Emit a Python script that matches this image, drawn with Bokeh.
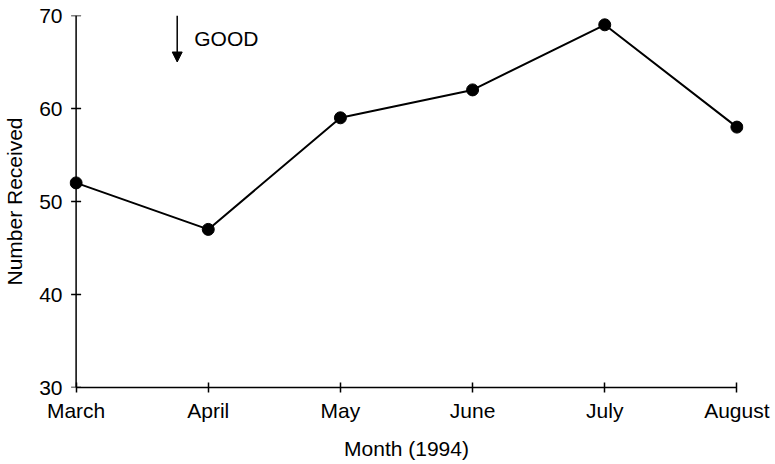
from bokeh.plotting import figure
from bokeh.models import Range1d, FixedTicker, Arrow, NormalHead, Label, ColumnDataSource
from bokeh.embed import file_html
from bokeh.resources import INLINE

months = ["March", "April", "May", "June", "July", "August"]
received = [52, 47, 59, 62, 69, 58]
y_ticks = [30, 40, 50, 60, 70]
x_title = "Month (1994)"
y_title = "Number Received"
note = "GOOD"

FONT = "Liberation Sans"
FS = "21px"

xs = list(range(len(months)))
src = ColumnDataSource(dict(x=xs, y=received, m=months))

pad = 0.05
p = figure(width=772, height=462, output_backend="svg", toolbar_location=None,
           x_range=Range1d(-pad, len(months) - 1 + pad), y_range=Range1d(30, 70),
           min_border_left=69, min_border_right=29, min_border_top=15, min_border_bottom=73)
p.outline_line_color = None
p.grid.visible = False
p.background_fill_color = "white"
p.border_fill_color = "white"

# y axis line and ticks drawn at the first category (x = 0)
tick_half = 5.0 / 132.0
p.segment(x0=[xs[0]], y0=[y_ticks[0]], x1=[xs[0]], y1=[y_ticks[-1]],
          line_color="black", line_width=1.5)
p.segment(x0=[xs[0] - tick_half] * len(y_ticks), y0=y_ticks,
          x1=[xs[0] + tick_half] * len(y_ticks), y1=y_ticks,
          line_color="black", line_width=1.5)

p.line("x", "y", source=src, line_color="black", line_width=2)
p.scatter("x", "y", source=src, size=12, fill_color="black", line_color="black")

p.xaxis.ticker = FixedTicker(ticks=xs)
p.xaxis.major_label_overrides = {i: m for i, m in enumerate(months)}
p.xaxis.bounds = (0, len(months) - 1)
p.yaxis.ticker = FixedTicker(ticks=y_ticks)
p.xaxis.minor_tick_line_color = None
p.yaxis.minor_tick_line_color = None

for ax in (p.xaxis[0], p.yaxis[0]):
    ax.axis_line_width = 1.5
    ax.axis_line_color = "black"
    ax.major_tick_line_width = 1.5
    ax.major_tick_line_color = "black"
    ax.major_tick_in = 5
    ax.major_tick_out = 5
    ax.major_label_text_font = FONT
    ax.major_label_text_font_size = FS
    ax.major_label_text_color = "black"
    ax.axis_label_text_font = FONT
    ax.axis_label_text_font_size = FS
    ax.axis_label_text_font_style = "normal"
    ax.axis_label_text_color = "black"

p.yaxis.axis_line_color = None
p.yaxis.major_tick_line_color = None
p.yaxis.major_tick_in = 0
p.yaxis.major_tick_out = 0

p.xaxis.axis_label = x_title
p.yaxis.axis_label = y_title
p.xaxis.major_label_standoff = 6
p.xaxis.axis_label_standoff = 12
p.yaxis.major_label_standoff = 7
p.yaxis.axis_label_standoff = 10

p.add_layout(Arrow(end=NormalHead(size=10, fill_color="black", line_color="black"),
                   x_start=0.765, y_start=70, x_end=0.765, y_end=65.0,
                   line_color="black", line_width=1.5))
p.add_layout(Label(x=0.894, y=67.5, text=note, text_font=FONT, text_font_size=FS,
                   text_baseline="middle", text_color="black"))

open("out.html", "w").write(file_html(p, INLINE))
